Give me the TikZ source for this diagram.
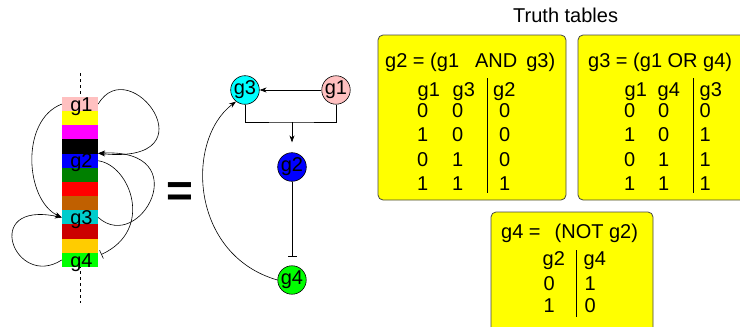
\documentclass[tikz,border=0pt]{standalone}
\usepackage{fontspec}
\setmainfont{Liberation Sans}
\usetikzlibrary{arrows.meta,calc}
\definecolor{pinkc}{RGB}{255,192,192}
\definecolor{yel}{RGB}{255,255,0}
\definecolor{magc}{RGB}{255,0,255}
\definecolor{bluec}{RGB}{0,0,255}
\definecolor{greenc}{RGB}{0,128,0}
\definecolor{redc}{RGB}{255,0,0}
\definecolor{brownc}{RGB}{192,96,0}
\definecolor{cyanb}{RGB}{0,204,204}
\definecolor{dred}{RGB}{204,0,0}
\definecolor{goldc}{RGB}{255,204,0}
\definecolor{limec}{RGB}{0,255,0}
\definecolor{cyanc}{RGB}{0,255,255}
\definecolor{boxline}{RGB}{70,70,70}
\begin{document}
\begin{tikzpicture}[x=1pt,y=-1pt,
  cell/.style={rectangle, inner sep=0, minimum width=36pt, minimum height=14.5pt, draw=none},
  lab/.style={font=\fontsize{20}{20}\selectfont, inner sep=0, anchor=base},
  gnode/.style={circle, draw, inner sep=0, minimum size=26pt, font=\fontsize{20}{20}\selectfont, line width=0.6pt},
  tt/.style={font=\fontsize{20}{20}\selectfont, inner sep=0, anchor=base west},
  tbox/.style={draw=boxline, fill=yel, rounded corners=5pt, line width=0.8pt, inner sep=0},
  arr/.style={-{Stealth[length=7pt,width=5pt]}, line width=0.6pt},
  inh/.style={-{Bar[width=9pt]}, line width=0.6pt},
  conn/.style={line width=0.6pt},
  vrule/.style={line width=1pt}]
\useasboundingbox (0,0) rectangle (740,327);
\clip (0,0) rectangle (740,327);
% dashed axis
\draw[dashed, dash pattern=on 3pt off 3pt, line width=0.6pt] (80,73) -- (80,303);
% colour bar
\foreach \c [count=\i] in {pinkc,yel,magc,black,bluec,greenc,redc,brownc,cyanb,dred,goldc,limec}
  \node[cell, fill=\c] (c\i) at (80, {97+14.17*\i-7.085}) {};
\node[lab] (l1) at (81.5,111.2) {g1};
\node[lab] (l2) at (81.5,167.9) {g2};
\node[lab] (l3) at (81.5,224.5) {g3};
\node[lab] (l4) at (81.5,267.0) {g4};
% loops on the bar
\draw[arr] (c1.east) .. controls (130,50) and (215,165) .. (c5.north east);
\draw[arr] (c9.east) .. controls (140,255) and (198,148) .. (c5.north east);
\draw[inh] (c5.east) .. controls (130,165) and (155,230) .. ($(c12.north east)+(3,2)$);
\draw[arr] (c1.west) .. controls (20,120) and (25,200) .. (c9.west);
\draw[arr] (c12.west) .. controls (15,290) and (-20,200) .. (c9.west);
% equals sign
\node[font=\fontsize{46}{46}\bfseries, inner sep=0, anchor=base] (eq) at (179.5,206) {=};
% network
\node[gnode, fill=cyanc] (n3) at (245,90) {g3};
\node[gnode, fill=pinkc] (n1) at (336,90) {g1};
\node[gnode, fill=bluec] (n2) at (292,167) {g2};
\node[gnode, fill=limec] (n4) at (292,280) {g4};
\coordinate (j) at (292,122);
\draw[arr] (n1) -- (n3);
\draw[conn] (n3.south) |- (j) -| (n1.south);
\draw[arr, shorten >=10pt] (j) -- (n2.north);
\draw[inh, shorten >=9pt] (n2) -- (n4);
\draw[arr] (n4.west) .. controls (190,255) and (185,140) .. (n3.232);
% truth tables
\node[tt] (title) at (513,22) {Truth tables};
\node[tbox, minimum width=188pt, minimum height=165pt] (b1) at (472,117.5) {};
\node[tbox, minimum width=182pt, minimum height=165pt] (b2) at (669,117.5) {};
\node[tbox, minimum width=162pt, minimum height=133pt] (b3) at (572,278.5) {};
% box 1
\node[tt] (t1) at (385,67) {g2 = (g1\hspace{16pt}AND\hspace{9pt}g3)};
\node[tt] (h11) at (417.5,96) {g1};
\node[tt] (h12) at (452.5,96) {g3};
\node[tt] (h13) at (493,96) {g2};
\draw[vrule] (487.5,78) -- (487.5,193);
\node[tt] at (417,117) {0}; \node[tt] at (452,117) {0}; \node[tt] at (499,117) {0};
\node[tt] at (417,141) {1}; \node[tt] at (452,141) {0}; \node[tt] at (499,141) {0};
\node[tt] at (417,166) {0}; \node[tt] at (452,166) {1}; \node[tt] at (499,166) {0};
\node[tt] at (417,190) {1}; \node[tt] at (452,190) {1}; \node[tt] at (499,190) {1};
% box 2
\node[tt] (t2) at (588,67) {g3 = (g1 OR g4)};
\node[tt] (h21) at (624.5,96) {g1};
\node[tt] (h22) at (657.5,96) {g4};
\node[tt] (h23) at (699.5,96) {g3};
\draw[vrule] (693,78) -- (693,193);
\node[tt] at (624,117) {0}; \node[tt] at (658,117) {0}; \node[tt] at (699.5,117) {0};
\node[tt] at (624,141) {1}; \node[tt] at (658,141) {0}; \node[tt] at (699.5,141) {1};
\node[tt] at (624,166) {0}; \node[tt] at (658,166) {1}; \node[tt] at (699.5,166) {1};
\node[tt] at (624,190) {1}; \node[tt] at (658,190) {1}; \node[tt] at (699.5,190) {1};
% box 3
\node[tt] (t3) at (501,238) {g4 =\hspace{14pt}(NOT g2)};
\node[tt] (h31) at (542.5,265) {g2};
\node[tt] (h32) at (583.5,265) {g4};
\draw[vrule] (576,250) -- (576,317);
\node[tt] at (543.5,290) {0}; \node[tt] at (584.5,290) {1};
\node[tt] at (543.5,312) {1}; \node[tt] at (584.5,312) {0};
\end{tikzpicture}
\end{document}
